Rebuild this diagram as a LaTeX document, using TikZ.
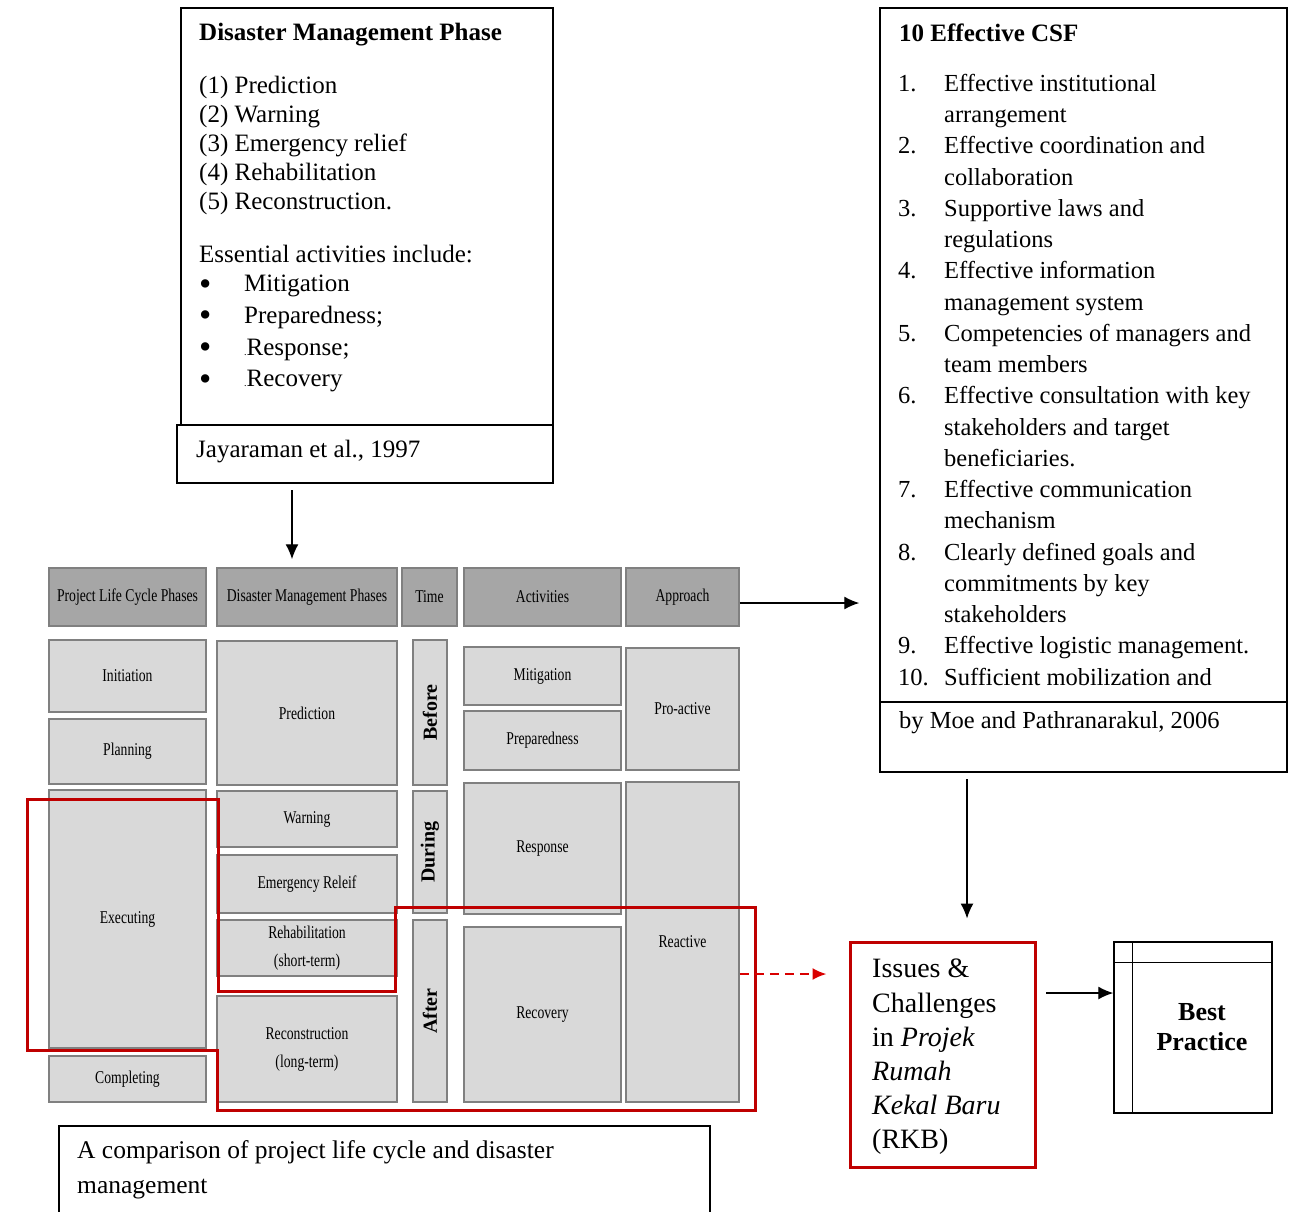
\documentclass[tikz,border=0pt]{standalone}
\usepackage{fontspec}
\setmainfont{Liberation Serif}
\newfontfamily\narrowfont[FakeStretch=0.76]{Liberation Serif}
\usetikzlibrary{arrows.meta}
\newcommand{\bigbul}{\smash{\raisebox{-3.5pt}{\scalebox{1.4}{\textbullet}}}}

\begin{document}
\begin{tikzpicture}[x=1pt,y=-1pt]
\tikzset{cell/.style={draw=black!50, line width=1.5pt, fill=black!15, inner sep=0pt, align=center, font=\narrowfont\fontsize{18}{28}\selectfont},
  head/.style={cell, fill=black!35},
  tcell/.style={cell, rotate=90, font=\bfseries\fontsize{20}{24}\selectfont},
  box/.style={draw, line width=1.5pt, inner sep=0pt},
  txt/.style={anchor=west, inner sep=0pt, align=left, font=\fontsize{25}{29}\selectfont},
  arr/.style={-{Latex[length=15pt,width=13pt]}, line width=1.3pt},
  redarr/.style={-{Latex[length=14pt,width=12pt]}, red!85!black, line width=2pt, dash pattern=on 9pt off 6pt},
  redline/.style={draw=red!75!black, line width=3pt}}
\useasboundingbox (0,0) rectangle (1294,1211);
% top left box
\node[box, minimum width=372, minimum height=417] (dmbox) at (367,216.5) {};
\node[box, minimum width=376, minimum height=58] (jaya) at (365,454) {};
\node[txt, font=\bfseries\fontsize{25}{29}\selectfont] (dmtitle) at (199,35) {Disaster Management Phase};
\node[txt] (dmlist) at (199,145) {(1) Prediction\\(2) Warning\\(3) Emergency relief\\(4) Rehabilitation\\(5) Reconstruction.};
\node[txt] (dmess) at (199,254) {Essential activities include:};
\node[txt, font=\fontsize{25}{31.7}\selectfont] (dmacts) at (199,333) {\begin{tabular}{@{}p{45pt}@{}l@{}}
\bigbul & Mitigation\\
\bigbul & Preparedness;\\
\bigbul & {\fontsize{10}{10}\selectfont .}Response;\\
\bigbul & {\fontsize{10}{10}\selectfont .}Recovery
\end{tabular}};
\node[txt] (jayatext) at (196,452) {Jayaraman et al., 1997};
% CSF box
\node[box, minimum width=407, minimum height=764] (csf) at (1083.5,390) {};
\coordinate (csfdiv) at (1000,702);
\draw[line width=1.5pt] (csf.west |- csfdiv) -- (csf.east |- csfdiv);
\node[txt, font=\bfseries\fontsize{25}{29}\selectfont] (csftitle) at (899,33) {10 Effective CSF};
\node[txt, font=\fontsize{24.5}{31.26}\selectfont] (csflist) at (898,382) {\begin{tabular}{@{}p{46pt}@{}l@{}}
1. & Effective institutional\\
 & arrangement\\
2. & Effective coordination and\\
 & collaboration\\
3. & Supportive laws and\\
 & regulations\\
4. & Effective information\\
 & management system\\
5. & Competencies of managers and\\
 & team members\\
6. & Effective consultation with key\\
 & stakeholders and target\\
 & beneficiaries.\\
7. & Effective communication\\
 & mechanism\\
8. & Clearly defined goals and\\
 & commitments by key\\
 & stakeholders\\
9. & Effective logistic management.\\
10. & Sufficient mobilization and
\end{tabular}};
\node[txt, font=\fontsize{24.5}{29}\selectfont] (csfref) at (899,723) {by Moe and Pathranarakul, 2006};
% table header
\node[head, minimum width=157, minimum height=58] (hplc) at (127.5,597) {Project Life Cycle Phases};
\node[head, minimum width=180, minimum height=58] (hdmp) at (307,597) {Disaster Management Phases};
\node[head, minimum width=55, minimum height=58] (htime) at (429.5,597) {Time};
\node[head, minimum width=157, minimum height=58] (hact) at (542.5,597) {Activities};
\node[head, minimum width=113, minimum height=58] (happ) at (682.5,597) {Approach};
% project life cycle
\node[cell, minimum width=157, minimum height=72] (init) at (127.5,676) {Initiation};
\node[cell, minimum width=157, minimum height=65] (plan) at (127.5,751.5) {Planning};
\node[cell, minimum width=157, minimum height=258] (exec) at (127.5,919) {Executing};
\node[cell, minimum width=157, minimum height=46] (compl) at (127.5,1079) {Completing};
% disaster management phases
\node[cell, minimum width=180, minimum height=144] (pred) at (307,713) {Prediction};
\node[cell, minimum width=180, minimum height=56] (warn) at (307,819) {Warning};
\node[cell, minimum width=180, minimum height=58] (emerg) at (307,884) {Emergency Releif};
\node[cell, minimum width=180, minimum height=56] (rehab) at (307,948) {Rehabilitation\\(short-term)};
\node[cell, minimum width=180, minimum height=106] (recon) at (307,1049) {Reconstruction\\(long-term)};
% time
\node[tcell, minimum width=145, minimum height=34] (before) at (430,712.5) {Before};
\node[tcell, minimum width=122, minimum height=34] (during) at (430,852) {During};
\node[tcell, minimum width=182, minimum height=34] (after) at (430,1011) {After};
% activities
\node[cell, minimum width=157, minimum height=58] (mitig) at (542.5,676) {Mitigation};
\node[cell, minimum width=157, minimum height=59] (prep) at (542.5,740.5) {Preparedness};
\node[cell, minimum width=157, minimum height=131] (resp) at (542.5,848.5) {Response};
\node[cell, minimum width=157, minimum height=175] (recov) at (542.5,1014.5) {Recovery};
% approach
\node[cell, minimum width=113, minimum height=122] (proact) at (682.5,709) {Pro-active};
\node[cell, minimum width=113, minimum height=320] (react) at (682.5,942) {Reactive};
% red outline
\draw[redline] (27,799) -- (218,799) -- (218,991) -- (395,991) -- (395,907) -- (755,907) -- (755,1110) -- (217,1110) -- (217,1050) -- (27,1050) -- cycle;
% caption
\node[box, minimum width=651, minimum height=92, anchor=north west] (caption) at (58,1125) {};
\node[txt, font=\fontsize{25.5}{35}\selectfont] (captext) at (77,1170) {A comparison of project life cycle and disaster\\management};
% issues and best practice
\node[draw=red!75!black, line width=3pt, minimum width=185, minimum height=225] (issues) at (942.5,1054.5) {};
\node[txt, font=\fontsize{28}{34.2}\selectfont] (issuestext) at (872,1057) {Issues \&\\Challenges\\in \textit{Projek}\\\textit{Rumah}\\\textit{Kekal Baru}\\(RKB)};
\node[box, minimum width=158, minimum height=171] (best) at (1193,1027.5) {};
\draw[line width=1.5pt] ([xshift=19pt]best.north west) -- ([xshift=19pt]best.south west);
\draw[line width=1.5pt] ([yshift=-21pt]best.north west) -- ([yshift=-21pt]best.north east);
\node[align=center, inner sep=0pt, font=\bfseries\fontsize{26}{30}\selectfont] (besttext) at (1202,1027) {Best\\Practice};
% arrows
\coordinate (a1) at (292,490);
\coordinate (a2) at (967,779);
\coordinate (a3) at (1046,993);
\draw[arr, shorten >=8pt] (a1) -- (a1 |- hdmp.north);
\draw[arr, shorten >=20pt] ([yshift=-6pt]happ.east) -- ([yshift=-6pt]happ.east -| csf.west);
\draw[arr, shorten >=22pt] (a2) -- (a2 |- issues.north);
\draw[redarr, shorten >=22pt] ([yshift=-32pt]react.east) -- ([yshift=-32pt]react.east -| issues.west);
\draw[arr] (a3) -- (a3 -| best.west);
\end{tikzpicture}
\end{document}
